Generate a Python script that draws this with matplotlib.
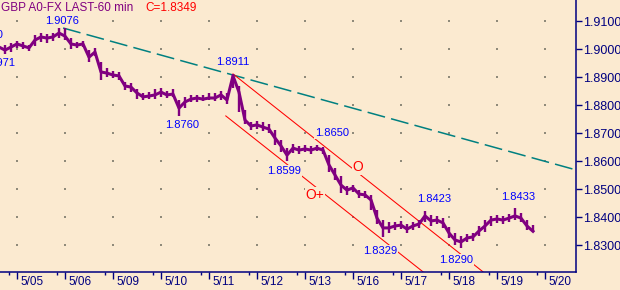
import numpy as np
import matplotlib.pyplot as plt
from matplotlib.transforms import ScaledTranslation

plt.rcParams['font.family'] = ['Liberation Sans', 'DejaVu Sans']
plt.rcParams['lines.scale_dashes'] = False

bg = '#FBEAD0'
navy = '#000080'
purple = '#800080'

# GBP 3-hour samples (day 0 = 5/05)
close = [1.9007, 1.8996, 1.9007, 1.9018, 1.9011, 1.9004, 1.9032, 1.9043, 1.9039, 1.9043,
         1.9057, 1.9046, 1.9018, 1.9014, 1.9018, 1.8971, 1.8989, 1.8918, 1.8914, 1.8907,
         1.8904, 1.8868, 1.8864, 1.8843, 1.8829, 1.8832, 1.8836, 1.8846, 1.8836, 1.8839,
         1.8789, 1.8811, 1.8821, 1.8825, 1.8821, 1.8825, 1.8825, 1.8836, 1.8818, 1.8904,
         1.8846, 1.8746, 1.8725, 1.8729, 1.8721, 1.8714, 1.8682, 1.8654, 1.8621, 1.8646,
         1.8639, 1.8643, 1.8639, 1.8646, 1.8639, 1.8586, 1.8550, 1.8514, 1.8496, 1.8504,
         1.8482, 1.8479, 1.8461, 1.8396, 1.8361, 1.8361, 1.8368, 1.8371, 1.8357, 1.8368,
         1.8375, 1.8404, 1.8386, 1.8389, 1.8379, 1.8343, 1.8318, 1.8311, 1.8325, 1.8329,
         1.8350, 1.8368, 1.8389, 1.8393, 1.8389, 1.8396, 1.8404, 1.8396, 1.8368, 1.8349]
high = [1.9021, 1.9014, 1.9021, 1.9029, 1.9025, 1.9014, 1.9050, 1.9057, 1.9054, 1.9057,
        1.9076, 1.9075, 1.9039, 1.9025, 1.9029, 1.8996, 1.9004, 1.8954, 1.8932, 1.8921,
        1.8918, 1.8882, 1.8879, 1.8857, 1.8843, 1.8846, 1.8857, 1.8861, 1.8850, 1.8857,
        1.8818, 1.8829, 1.8836, 1.8836, 1.8836, 1.8843, 1.8843, 1.8850, 1.8843, 1.8911,
        1.8868, 1.8782, 1.8739, 1.8743, 1.8739, 1.8732, 1.8711, 1.8675, 1.8646, 1.8661,
        1.8654, 1.8657, 1.8654, 1.8657, 1.8650, 1.8621, 1.8575, 1.8546, 1.8511, 1.8514,
        1.8496, 1.8493, 1.8479, 1.8425, 1.8389, 1.8382, 1.8382, 1.8386, 1.8375, 1.8382,
        1.8389, 1.8423, 1.8407, 1.8404, 1.8396, 1.8364, 1.8343, 1.8332, 1.8339, 1.8343,
        1.8368, 1.8389, 1.8404, 1.8407, 1.8404, 1.8411, 1.8433, 1.8414, 1.8389, 1.8371]
low = [1.8986, 1.8982, 1.8989, 1.9004, 1.9000, 1.8993, 1.9011, 1.9025, 1.9021, 1.9029,
       1.9039, 1.9032, 1.9000, 1.9004, 1.9007, 1.8954, 1.8975, 1.8889, 1.8900, 1.8896,
       1.8889, 1.8854, 1.8846, 1.8821, 1.8818, 1.8821, 1.8821, 1.8829, 1.8825, 1.8829,
       1.8760, 1.8789, 1.8811, 1.8811, 1.8814, 1.8818, 1.8814, 1.8818, 1.8804, 1.8861,
       1.8775, 1.8732, 1.8711, 1.8714, 1.8707, 1.8700, 1.8657, 1.8632, 1.8599, 1.8629,
       1.8625, 1.8632, 1.8625, 1.8636, 1.8625, 1.8561, 1.8532, 1.8486, 1.8479, 1.8489,
       1.8468, 1.8468, 1.8425, 1.8375, 1.8329, 1.8343, 1.8354, 1.8357, 1.8343, 1.8354,
       1.8361, 1.8382, 1.8368, 1.8375, 1.8361, 1.8325, 1.8300, 1.8290, 1.8311, 1.8314,
       1.8332, 1.8346, 1.8368, 1.8379, 1.8375, 1.8382, 1.8389, 1.8382, 1.8354, 1.8346]
t = np.arange(len(close)) / 8 - 0.375

day_labels = ['5/05', '5/06', '5/09', '5/10', '5/11', '5/12', '5/13',
              '5/16', '5/17', '5/18', '5/19', '5/20']
price_ticks = [1.83, 1.84, 1.85, 1.86, 1.87, 1.88, 1.89, 1.90, 1.91]

# trend lines (day, price)
trend_x, trend_y = [0.96, 11.65], [1.9075, 1.8568]
upper_x, upper_y = [4.50, 9.71], [1.8911, 1.8204]
lower_x, lower_y = [4.35, 8.46], [1.8761, 1.8204]

# price notes: text, day, price
notes = [('1.9076', 0.94, 1.9100), ('1.8911', 4.50, 1.8954), ('1.8760', 3.44, 1.8729),
         ('1.8650', 6.56, 1.8700), ('1.8599', 5.56, 1.8564), ('1.8329', 7.56, 1.8279),
         ('1.8290', 9.15, 1.8246), ('1.8423', 8.69, 1.8464), ('1.8433', 10.44, 1.8471)]
cut_notes = [('1.9060', -0.29, 1.9050), ('1.8971', -0.04, 1.8950)]
marks = [('O', 7.10, 1.8577), ('O+', 6.21, 1.8479)]

fig = plt.figure(figsize=(6.2, 2.9), dpi=100, facecolor=bg)
ax = fig.add_axes([0, 18 / 290, 576 / 620, 272 / 290], facecolor=bg)
ax.set_xlim(-0.354, 11.646)
ax.set_ylim(1.82036, 1.9175)

# dotted grid: one dot per crossing
gx, gy = np.meshgrid(range(len(day_labels)), price_ticks)
ax.scatter(gx.ravel(), gy.ravel(), s=1.2, marker='s', color='#8f8a7a', lw=0, zorder=1)

ax.vlines(t, low, high, color=purple, lw=1.7, zorder=3)
ax.plot(t, close, color=purple, lw=2.2, zorder=3)

ax.plot(trend_x, trend_y, color='#008080', lw=1.1, dashes=(13, 4.5), zorder=2)
ax.plot(upper_x, upper_y, color='red', lw=0.75, zorder=2)
ax.plot(lower_x, lower_y, color='red', lw=0.75, zorder=2)

box = dict(facecolor=bg, edgecolor='none', pad=0.6)
for s, x, y in notes:
    ax.text(x, y, s, color='blue', fontsize=8, ha='center', va='center', bbox=box, zorder=5)
for s, x, y in cut_notes:
    ax.text(x, y, s, color='blue', fontsize=8, ha='right', va='center', zorder=5, clip_on=True)
for s, x, y in marks:
    ax.text(x, y, s, color='red', fontsize=10, ha='center', va='center', bbox=box, zorder=5)

ax.yaxis.tick_right()
ax.set_yticks(price_ticks)
ax.set_yticklabels([f'{p:.4f}' for p in price_ticks])
ax.tick_params(axis='y', direction='out', length=4, width=1, colors=navy, labelsize=9, pad=1)

ax.set_xticks(range(len(day_labels)))
ax.set_xticklabels(day_labels)
ax.set_xticks(np.arange(len(day_labels)) - 1 / 6, minor=True)
ax.tick_params(axis='x', which='major', direction='out', length=5, width=1, colors=navy,
               labelsize=8.5, pad=0)
ax.tick_params(axis='x', which='minor', direction='out', length=2.2, width=1, colors=navy)
for lab in ax.get_xticklabels():
    lab.set_horizontalalignment('left')
    lab.set_transform(lab.get_transform() + ScaledTranslation(3 / 100, 3 / 100, fig.dpi_scale_trans))

for side in ['top', 'left']:
    ax.spines[side].set_visible(False)
for side in ['right', 'bottom']:
    ax.spines[side].set_color(navy)
    ax.spines[side].set_linewidth(1.1)

fig.text(1 / 620, 1 - 8 / 290, 'GBP A0-FX LAST-60 min', color=purple, fontsize=8.5, va='center')
fig.text(145 / 620, 1 - 8 / 290, 'C=1.8349', color='red', fontsize=8.5, va='center')

fig.savefig('out.png', dpi=100, facecolor=bg)
